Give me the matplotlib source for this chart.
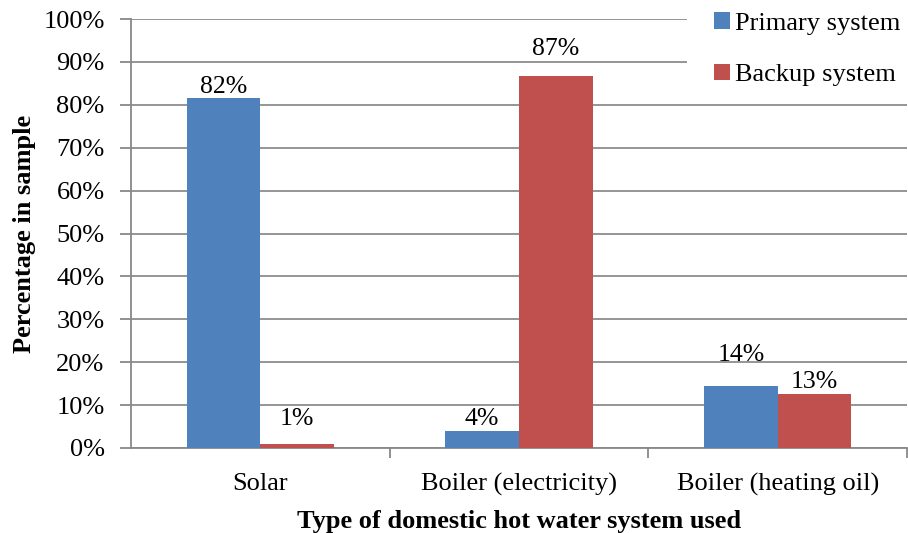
import numpy as np
import matplotlib.pyplot as plt
from matplotlib.patches import Rectangle

plt.rcParams['font.family'] = ['Liberation Serif', 'DejaVu Serif']

categories = ['Solar', 'Boiler (electricity)', 'Boiler (heating oil)']
primary = [81.7, 4.0, 14.4]
backup = [0.9, 86.6, 12.6]
primary_labels = ['82%', '4%', '14%']
backup_labels = ['1%', '87%', '13%']

# label lift above bar top, in pixels
primary_lift = [0, 1, 20]
backup_lift = [14, 16, 1]

blue = '#4F81BD'
red = '#C0504D'

fig = plt.figure(figsize=(9.08, 5.33), dpi=100)
ax = fig.add_axes([131/908, 1-448/533, 776/908, 429/533])

x = np.arange(len(categories))
w = 0.285
ax.bar(x - w/2, primary, w, color=blue, label='Primary system', zorder=3)
ax.bar(x + w/2, backup, w, color=red, label='Backup system', zorder=3)

for xi, v, s, d in zip(x - w/2, primary, primary_labels, primary_lift):
    ax.annotate(s, (xi, v), xytext=(0, d), textcoords='offset pixels',
                ha='center', va='bottom', fontsize=18.5, zorder=4)
for xi, v, s, d in zip(x + w/2, backup, backup_labels, backup_lift):
    ax.annotate(s, (xi, v), xytext=(0, d), textcoords='offset pixels',
                ha='center', va='bottom', fontsize=18.5, zorder=4)

ax.set_xlim(-0.5, 2.5)
ax.set_ylim(0, 100)
ax.set_yticks(np.arange(0, 101, 10))
ax.set_yticklabels([f'{v}%' for v in range(0, 101, 10)], fontsize=19)
ax.set_xticks(x)
ax.set_xticklabels(categories, fontsize=19)
ax.set_xticks([0.5, 1.5, 2.5], minor=True)
ax.tick_params(axis='x', which='major', length=0, pad=18)
ax.tick_params(axis='x', which='minor', length=7, color='#888888', width=1.3)
ax.tick_params(axis='y', length=8, color='#888888', width=1.3, pad=11)

ax.grid(axis='y', color='#8c8c8c', linewidth=1.3, zorder=0)
for s in ['top', 'right']:
    ax.spines[s].set_visible(False)
ax.spines['left'].set_color('#888888')
ax.spines['bottom'].set_color('#888888')
ax.spines['left'].set_linewidth(1.3)
ax.spines['bottom'].set_linewidth(1.3)

ax.set_xlabel('Type of domestic hot water system used', fontsize=19,
              fontweight='bold', labelpad=10)
ax.set_ylabel('Percentage in sample', fontsize=19, fontweight='bold', labelpad=5)

# white block behind the legend hides the top gridlines
ax.add_patch(Rectangle(((687-131)/776, (448-100)/429), (908-687)/776, 100/429,
                       transform=ax.transAxes, facecolor='white',
                       edgecolor='none', zorder=2, clip_on=False))

leg = ax.legend(loc='upper left', bbox_to_anchor=((714-131)/776, 1 + 7/429),
                frameon=False, fontsize=19, handlelength=0.6, handleheight=0.6,
                handletextpad=0.2, labelspacing=1.1, borderpad=0,
                borderaxespad=0)
leg.set_zorder(5)

fig.savefig('out.png', dpi=100)
